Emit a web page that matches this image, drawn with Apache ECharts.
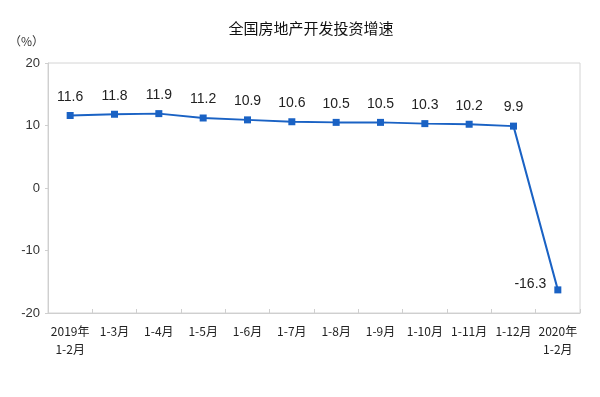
<!DOCTYPE html>
<html>
<head>
<meta charset="utf-8">
<script src="https://cdn.jsdelivr.net/npm/echarts@6/dist/echarts.min.js"></script>
<style>
  html, body { margin: 0; padding: 0; background: #fff; }
  #main { width: 600px; height: 397px; }
</style>
</head>
<body>
<div id="main"></div>
<script>
// 类目与增速数据
var categories = ['2019年\n1-2月', '1-3月', '1-4月', '1-5月', '1-6月', '1-7月', '1-8月', '1-9月', '1-10月', '1-11月', '1-12月', '2020年\n1-2月'];
var growth = [11.6, 11.8, 11.9, 11.2, 10.9, 10.6, 10.5, 10.5, 10.3, 10.2, 9.9, -16.3];
var yTicks = [-20, -10, 0, 10, 20];

var myChart = echarts.init(document.getElementById('main'));

var seriesData = growth.map(function (v, i) {
  if (i === growth.length - 1) {
    // 最后一个点标签放在左侧
    return { value: v, label: { position: 'left', distance: 8, offset: [0, -6] } };
  }
  return v;
});

var option = {
  animation: false,
  title: {
    text: '全国房地产开发投资增速',
    left: 306,
    top: 16,
    textAlign: 'center',
    textStyle: {
      fontFamily: 'Noto Sans CJK SC',
      fontSize: 15,
      fontWeight: 'normal',
      color: '#111'
    }
  },
  grid: {
    left: 48,
    right: 20,
    top: 63,
    bottom: 84,
    show: true,
    borderColor: '#d4d4d4',
    borderWidth: 1
  },
  xAxis: {
    type: 'category',
    data: categories,
    boundaryGap: true,
    axisLine: { onZero: false, lineStyle: { color: '#cfcfcf' } },
    axisTick: { show: true, inside: true, length: 4, lineStyle: { color: '#cfcfcf' } },
    axisLabel: {
      interval: 0,
      margin: 9,
      fontFamily: 'Noto Sans CJK SC',
      fontSize: 12,
      lineHeight: 18,
      color: '#222'
    }
  },
  yAxis: {
    type: 'value',
    min: yTicks[0],
    max: yTicks[yTicks.length - 1],
    interval: 10,
    name: '（%）',
    nameLocation: 'end',
    nameGap: 16,
    nameTextStyle: {
      align: 'right',
      padding: [0, 4, 0, 0],
      fontFamily: 'Noto Sans CJK SC',
      fontSize: 12,
      color: '#333'
    },
    axisLine: { show: true, lineStyle: { color: '#cfcfcf' } },
    axisTick: { show: true, length: 3, lineStyle: { color: '#cfcfcf' } },
    splitLine: { show: false },
    axisLabel: {
      margin: 8,
      fontFamily: 'Liberation Sans',
      fontSize: 13,
      color: '#333'
    }
  },
  series: [{
    type: 'line',
    data: seriesData,
    symbol: 'rect',
    symbolSize: 7,
    lineStyle: { color: '#1a62c4', width: 2 },
    itemStyle: { color: '#1a62c4' },
    label: {
      show: true,
      position: 'top',
      distance: 8,
      fontFamily: 'Liberation Sans',
      fontSize: 14,
      color: '#222'
    }
  }]
};

myChart.setOption(option);
</script>
</body>
</html>
